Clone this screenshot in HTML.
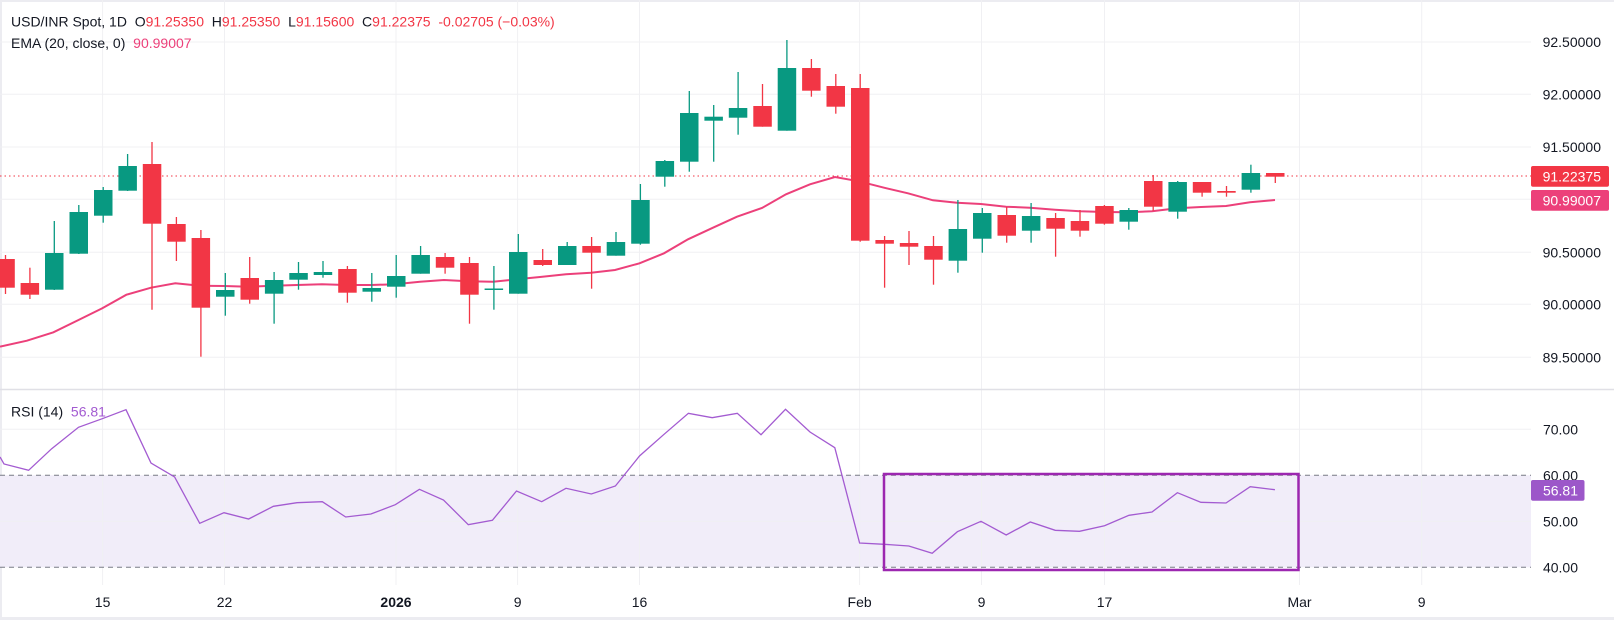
<!DOCTYPE html>
<html><head><meta charset="utf-8"><style>
html,body{margin:0;padding:0;background:#fff;}
svg{display:block;font-family:"Liberation Sans",sans-serif;}
</style></head><body>
<svg width="1614" height="620" viewBox="0 0 1614 620" xmlns="http://www.w3.org/2000/svg">
<rect x="0" y="0" width="1614" height="620" fill="#fff"/>
<!-- frame -->
<rect x="0" y="0" width="1614" height="2" fill="#ececf1"/>
<rect x="0" y="0" width="2" height="620" fill="#ececf1"/>
<rect x="0" y="617" width="1614" height="3" fill="#ececf1"/>
<!-- RSI band -->
<rect x="0" y="475.3" width="1531" height="92" fill="#f1edf9"/>
<!-- grid -->
<g stroke="#f0f0f3" stroke-width="1">
<line x1="102.6" y1="0" x2="102.6" y2="585"/><line x1="224.5" y1="0" x2="224.5" y2="585"/>
<line x1="396" y1="0" x2="396" y2="585"/><line x1="517.6" y1="0" x2="517.6" y2="585"/>
<line x1="639.5" y1="0" x2="639.5" y2="585"/><line x1="859.6" y1="0" x2="859.6" y2="585"/>
<line x1="981.5" y1="0" x2="981.5" y2="585"/><line x1="1104.5" y1="0" x2="1104.5" y2="585"/>
<line x1="1299.5" y1="0" x2="1299.5" y2="585"/><line x1="1421.7" y1="0" x2="1421.7" y2="585"/>
<line x1="0" y1="42" x2="1531" y2="42"/><line x1="0" y1="94.3" x2="1531" y2="94.3"/>
<line x1="0" y1="147" x2="1531" y2="147"/><line x1="0" y1="199.3" x2="1531" y2="199.3"/>
<line x1="0" y1="252.3" x2="1531" y2="252.3"/><line x1="0" y1="304.3" x2="1531" y2="304.3"/>
<line x1="0" y1="357.3" x2="1531" y2="357.3"/>
<line x1="0" y1="429.3" x2="1531" y2="429.3"/><line x1="0" y1="521.3" x2="1531" y2="521.3"/>
</g>
<line x1="0" y1="389.5" x2="1614" y2="389.5" stroke="#e0e0e6" stroke-width="1.5"/>
<g stroke="#787b86" stroke-width="1" stroke-dasharray="5,4">
<line x1="0" y1="475.3" x2="1531" y2="475.3"/><line x1="0" y1="567.3" x2="1531" y2="567.3"/>
</g>
<!-- last price line -->
<line x1="0" y1="176" x2="1531" y2="176" stroke="#f23645" stroke-width="1" stroke-dasharray="1.5,3"/>
<!-- EMA -->
<polyline fill="none" stroke="#ec407a" stroke-width="2" points="0,346.7 26.9,340.7 53.4,332.3 78.5,320 102.3,308.3 126.4,294.7 151,287.7 175.3,283.3 200,285.7 224,286 249,286.7 273,285.7 297,285 322,284.3 346,285 371,285 395,284.3 420,281.7 444,280 468,281.3 493,281.7 517,279.3 540,277 566,274.3 591,272.7 615,270 639.5,263.3 664,253.3 688,239.3 713,227.7 737,216.7 762,208 786,194.3 810,184.3 835,177 859,181.3 884,187.7 908,193.3 933,200.3 957,202.7 981,204 1006,206.7 1030,207.7 1055,209.7 1080,211.3 1104.5,212 1128,212.3 1152,211.3 1177,208.3 1201,207 1226,206 1250,202.3 1275,200"/>
<!-- green candles -->
<g stroke="#089981" fill="#089981" stroke-width="1.3">
<line x1="54.3" y1="221" x2="54.3" y2="290"/><rect x="45" y="253" width="18.5" height="36.7" stroke="none"/>
<line x1="78.8" y1="205" x2="78.8" y2="254"/><rect x="69.5" y="212" width="18.5" height="41.7" stroke="none"/>
<line x1="103.2" y1="187" x2="103.2" y2="222.7"/><rect x="94" y="190" width="18.5" height="25.7" stroke="none"/>
<line x1="127.6" y1="154" x2="127.6" y2="191"/><rect x="118.4" y="166" width="18.5" height="24.7" stroke="none"/>
<line x1="225.3" y1="273" x2="225.3" y2="315.7"/><rect x="216" y="290" width="18.5" height="6.7" stroke="none"/>
<line x1="274.1" y1="272" x2="274.1" y2="323.7"/><rect x="264.9" y="280" width="18.5" height="13.7" stroke="none"/>
<line x1="298.5" y1="262" x2="298.5" y2="289.7"/><rect x="289.3" y="273" width="18.5" height="6.7" stroke="none"/>
<line x1="323" y1="261" x2="323" y2="277.7"/><rect x="313.7" y="272" width="18.5" height="3" stroke="none"/>
<line x1="371.8" y1="273" x2="371.8" y2="301.7"/><rect x="362.5" y="288" width="18.5" height="3.7" stroke="none"/>
<line x1="396.2" y1="255" x2="396.2" y2="297.7"/><rect x="387" y="276" width="18.5" height="10.7" stroke="none"/>
<line x1="420.6" y1="246" x2="420.6" y2="273.7"/><rect x="411.4" y="255" width="18.5" height="18.7" stroke="none"/>
<line x1="493.9" y1="266" x2="493.9" y2="309.7"/><rect x="484.6" y="288.5" width="18.5" height="1.5" stroke="none"/>
<line x1="518.3" y1="234" x2="518.3" y2="293.7"/><rect x="509" y="252" width="18.5" height="41.7" stroke="none"/>
<line x1="567.2" y1="242" x2="567.2" y2="265"/><rect x="558" y="246" width="18.5" height="19" stroke="none"/>
<line x1="616" y1="232" x2="616" y2="255.7"/><rect x="606.7" y="242" width="18.5" height="13.7" stroke="none"/>
<line x1="640.4" y1="184" x2="640.4" y2="244.7"/><rect x="631.2" y="200" width="18.5" height="43.7" stroke="none"/>
<line x1="664.8" y1="160" x2="664.8" y2="186.7"/><rect x="655.6" y="161" width="18.5" height="15.7" stroke="none"/>
<line x1="689.3" y1="91" x2="689.3" y2="171.7"/><rect x="680" y="113" width="18.5" height="48.7" stroke="none"/>
<line x1="713.7" y1="105" x2="713.7" y2="161.7"/><rect x="704.4" y="116.7" width="18.5" height="4" stroke="none"/>
<line x1="738.1" y1="72" x2="738.1" y2="134.7"/><rect x="728.8" y="108" width="18.5" height="9.7" stroke="none"/>
<line x1="786.9" y1="40" x2="786.9" y2="130.7"/><rect x="777.7" y="68" width="18.5" height="62.7" stroke="none"/>
<line x1="957.9" y1="200" x2="957.9" y2="272.7"/><rect x="948.6" y="229" width="18.5" height="31.7" stroke="none"/>
<line x1="982.3" y1="208" x2="982.3" y2="252.7"/><rect x="973" y="213" width="18.5" height="25.7" stroke="none"/>
<line x1="1031.1" y1="203" x2="1031.1" y2="242.7"/><rect x="1021.9" y="216" width="18.5" height="14.7" stroke="none"/>
<line x1="1128.8" y1="208" x2="1128.8" y2="229.7"/><rect x="1119.5" y="210" width="18.5" height="11.7" stroke="none"/>
<line x1="1177.7" y1="181" x2="1177.7" y2="218.7"/><rect x="1168.4" y="182" width="18.5" height="29.7" stroke="none"/>
<line x1="1250.9" y1="164.7" x2="1250.9" y2="192.7"/><rect x="1241.6" y="173" width="18.5" height="16.7" stroke="none"/>
</g>
<!-- red candles -->
<g stroke="#f23645" fill="#f23645" stroke-width="1.3">
<line x1="5.5" y1="255" x2="5.5" y2="294"/><rect x="-3.7" y="259" width="18.5" height="28.7" stroke="none"/>
<line x1="29.9" y1="267.7" x2="29.9" y2="299"/><rect x="20.6" y="283" width="18.5" height="11.7" stroke="none"/>
<line x1="152" y1="142" x2="152" y2="309.7"/><rect x="142.8" y="164" width="18.5" height="59.7" stroke="none"/>
<line x1="176.4" y1="217" x2="176.4" y2="261"/><rect x="167.2" y="224" width="18.5" height="17.7" stroke="none"/>
<line x1="200.9" y1="230" x2="200.9" y2="356.7"/><rect x="191.6" y="238" width="18.5" height="69.7" stroke="none"/>
<line x1="249.7" y1="257" x2="249.7" y2="303.7"/><rect x="240.5" y="278" width="18.5" height="21.7" stroke="none"/>
<line x1="347.4" y1="266" x2="347.4" y2="302.7"/><rect x="338.2" y="269" width="18.5" height="23.7" stroke="none"/>
<line x1="445.1" y1="253" x2="445.1" y2="273.7"/><rect x="435.8" y="257" width="18.5" height="10.7" stroke="none"/>
<line x1="469.5" y1="257" x2="469.5" y2="323.7"/><rect x="460.2" y="263" width="18.5" height="31.7" stroke="none"/>
<line x1="542.7" y1="249" x2="542.7" y2="266"/><rect x="533.5" y="260" width="18.5" height="5" stroke="none"/>
<line x1="591.6" y1="237" x2="591.6" y2="288.7"/><rect x="582.3" y="246" width="18.5" height="6.7" stroke="none"/>
<line x1="762.5" y1="84" x2="762.5" y2="126.7"/><rect x="753.3" y="106" width="18.5" height="20.7" stroke="none"/>
<line x1="811.4" y1="59" x2="811.4" y2="96.7"/><rect x="802.1" y="68" width="18.5" height="22.7" stroke="none"/>
<line x1="835.8" y1="74" x2="835.8" y2="113.7"/><rect x="826.5" y="86" width="18.5" height="20.7" stroke="none"/>
<line x1="860.2" y1="74" x2="860.2" y2="241.7"/><rect x="851" y="88" width="18.5" height="152.7" stroke="none"/>
<line x1="884.6" y1="236" x2="884.6" y2="287.7"/><rect x="875.4" y="240" width="18.5" height="3.7" stroke="none"/>
<line x1="909" y1="231" x2="909" y2="265"/><rect x="899.8" y="243" width="18.5" height="3.7" stroke="none"/>
<line x1="933.5" y1="236" x2="933.5" y2="284.7"/><rect x="924.2" y="246" width="18.5" height="13.7" stroke="none"/>
<line x1="1006.7" y1="207" x2="1006.7" y2="242.7"/><rect x="997.5" y="215" width="18.5" height="20.7" stroke="none"/>
<line x1="1055.6" y1="213" x2="1055.6" y2="256.7"/><rect x="1046.3" y="218" width="18.5" height="10.7" stroke="none"/>
<line x1="1080" y1="210" x2="1080" y2="236.7"/><rect x="1070.7" y="221" width="18.5" height="9.7" stroke="none"/>
<line x1="1104.4" y1="205" x2="1104.4" y2="224.7"/><rect x="1095.2" y="206" width="18.5" height="17.7" stroke="none"/>
<line x1="1153.2" y1="175" x2="1153.2" y2="210.7"/><rect x="1144" y="181" width="18.5" height="25.7" stroke="none"/>
<line x1="1202.1" y1="182" x2="1202.1" y2="196.7"/><rect x="1192.8" y="182" width="18.5" height="10.7" stroke="none"/>
<line x1="1226.5" y1="186" x2="1226.5" y2="196.7"/><rect x="1217.2" y="191" width="18.5" height="1.7" stroke="none"/>
<line x1="1275.3" y1="173" x2="1275.3" y2="183"/><rect x="1266" y="173" width="18.5" height="3.7" stroke="none"/>
</g>
<!-- RSI line -->
<polyline fill="none" stroke="#a35bd1" stroke-width="1.3" points="0,457 4,464 28.6,470.3 51.7,448.7 78.5,427.3 102.3,418.7 126,409.7 151,463 174.6,477 199.7,523.3 224,512.7 248.6,519 273.4,506.3 297,502.7 322.3,501.7 345.7,517 370.9,514 395.3,504.7 419.4,489.3 443.5,500 468.3,524.7 492.4,520.3 516.5,491 541.7,501.7 566,488.3 591.3,494 615.4,486 639.5,456 663.6,434.7 688.4,413.3 712.2,417.7 737.3,413.3 761,434.7 785.5,409.3 810,432 834.8,447.7 859.6,543 884.4,544.3 908.8,546 932.2,553.3 957.4,531.7 981,521.3 1006.2,535 1030.3,522 1055.2,530.3 1079.5,531.3 1104.5,525.7 1129,515.3 1152,512 1177.4,492.7 1200.9,502.3 1226,503 1250.2,486.7 1274.9,489.7"/>
<!-- highlight rectangle -->
<rect x="884" y="474" width="414.5" height="96" fill="none" stroke="#9c27b0" stroke-width="2.5"/>
<!-- price axis labels -->
<g font-size="14" fill="#131722" text-anchor="end">
<text x="1601" y="47">92.50000</text>
<text x="1601" y="99.3">92.00000</text>
<text x="1601" y="152">91.50000</text>
<text x="1601" y="257.3">90.50000</text>
<text x="1601" y="309.3">90.00000</text>
<text x="1601" y="362.3">89.50000</text>
<text x="1578" y="434.3">70.00</text>
<text x="1578" y="480.3">60.00</text>
<text x="1578" y="526.3">50.00</text>
<text x="1578" y="572.3">40.00</text>
</g>
<rect x="1531" y="166" width="78" height="20.7" rx="2" fill="#f23645"/>
<text x="1601" y="181.5" font-size="14" fill="#fff" text-anchor="end">91.22375</text>
<rect x="1531" y="190" width="78" height="20.7" rx="2" fill="#ec407a"/>
<text x="1601" y="205.5" font-size="14" fill="#fff" text-anchor="end">90.99007</text>
<rect x="1531" y="480" width="53.5" height="20.7" rx="2" fill="#9c57c9"/>
<text x="1578" y="495.5" font-size="14" fill="#fff" text-anchor="end">56.81</text>
<!-- time axis -->
<g font-size="14" fill="#131722" text-anchor="middle">
<text x="102.6" y="607">15</text>
<text x="224.5" y="607">22</text>
<text x="396" y="607" font-weight="bold">2026</text>
<text x="517.6" y="607">9</text>
<text x="639.5" y="607">16</text>
<text x="859.6" y="607">Feb</text>
<text x="981.5" y="607">9</text>
<text x="1104.5" y="607">17</text>
<text x="1299.5" y="607">Mar</text>
<text x="1421.7" y="607">9</text>
</g>
<!-- legends -->
<text x="11" y="26.5" font-size="14" fill="#131722" xml:space="preserve">USD/INR Spot, 1D  O<tspan fill="#f23645">91.25350</tspan>  H<tspan fill="#f23645">91.25350</tspan>  L<tspan fill="#f23645">91.15600</tspan>  C<tspan fill="#f23645">91.22375</tspan>  <tspan fill="#f23645">-0.02705 (−0.03%)</tspan></text>
<text x="11" y="48" font-size="14" fill="#131722" xml:space="preserve">EMA (20, close, 0)  <tspan fill="#ec407a">90.99007</tspan></text>
<text x="11" y="416.5" font-size="14" fill="#131722" xml:space="preserve">RSI (14)  <tspan fill="#a35bd1">56.81</tspan></text>
</svg>
</body></html>
